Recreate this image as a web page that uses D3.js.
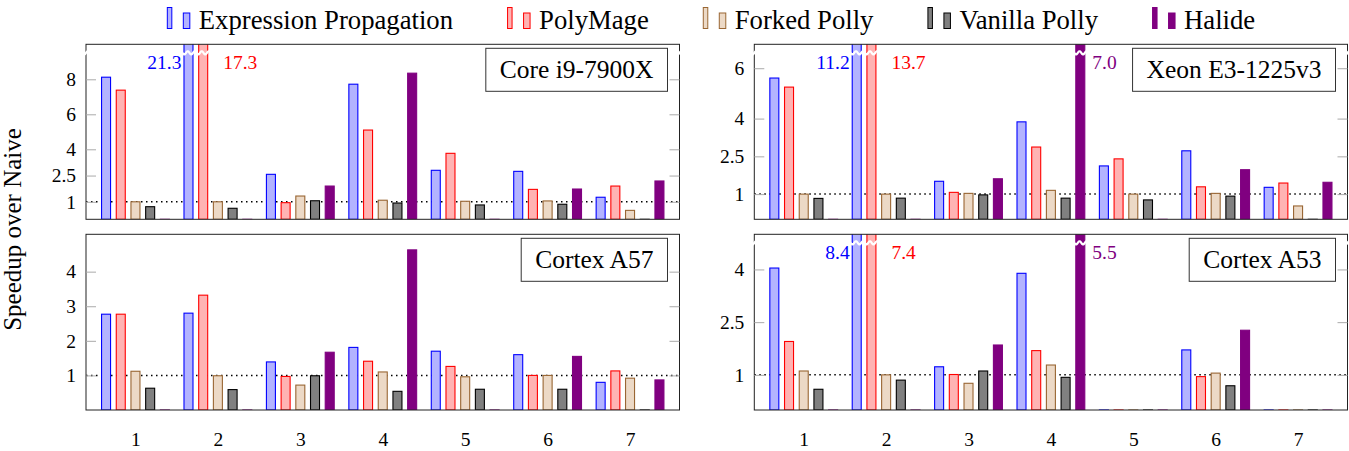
<!DOCTYPE html>
<html>
<head>
<meta charset="utf-8">
<script src="https://cdn.jsdelivr.net/npm/d3@7"></script>
<style>
  body { margin: 0; background: #fff; }
  text { font-family: "Liberation Serif", "Times New Roman", serif; }
</style>
</head>
<body>
<script>

// benchmarks on the x axis
var benchmarks = [1, 2, 3, 4, 5, 6, 7];

// series shown in every panel
var seriesNames = ["Expression Propagation", "PolyMage", "Forked Polly", "Vanilla Polly", "Halide"];
var fillColors = ["#b3b3ff", "#ffb3b3", "#ecd9c6", "#808080", "#800080"];
var strokeColors = ["#0000ff", "#ff0000", "#996633", "#000000", "#800080"];

// speedups, one row per series
var i9Speedup = [
  [8.12, 21.3, 2.57, 7.72, 2.80, 2.74, 1.26],
  [7.38, 17.3, 0.95, 5.10, 3.77, 1.71, 1.90],
  [1.00, 1.00, 1.33, 1.09, 1.03, 1.05, 0.51],
  [0.72, 0.63, 1.06, 0.93, 0.82, 0.86, 0],
  [0, 0, 1.90, 8.35, 0, 1.73, 2.19]
];
var xeonSpeedup = [
  [5.61, 11.2, 1.51, 3.87, 2.12, 2.72, 1.27],
  [5.25, 13.7, 1.07, 2.87, 2.40, 1.29, 1.44],
  [1.00, 1.00, 1.03, 1.15, 1.00, 1.03, 0.53],
  [0.83, 0.84, 0.97, 0.84, 0.77, 0.92, 0],
  [0, 0, 1.61, 7.0, 0, 1.97, 1.47]
];
var a57Speedup = [
  [2.77, 2.80, 1.39, 1.81, 1.70, 1.60, 0.80],
  [2.77, 3.32, 0.97, 1.41, 1.26, 1.00, 1.13],
  [1.12, 0.99, 0.72, 1.10, 0.96, 1.00, 0.92],
  [0.63, 0.59, 0.99, 0.54, 0.60, 0.60, 0],
  [0, 0, 1.67, 4.63, 0, 1.55, 0.87]
];
var a53Speedup = [
  [4.04, 8.4, 1.23, 3.89, 0, 1.71, 0],
  [1.95, 7.4, 1.01, 1.69, 0, 0.95, 0],
  [1.11, 1.00, 0.76, 1.28, 0, 1.05, 0],
  [0.59, 0.85, 1.11, 0.93, 0, 0.69, 0],
  [0, 0, 1.85, 5.5, 0, 2.27, 0]
];

// tick labels of each panel
var i9Ticks = [1, 2.5, 4, 6, 8];
var xeonTicks = [1, 2.5, 4, 6];
var a57Ticks = [1, 2, 3, 4];
var a53Ticks = [1, 2.5, 4];

var width = 1349;
var height = 451;

var svg = d3.select("body")
  .append("svg")
  .attr("width", width)
  .attr("height", height);

var panels = [
  {title: "Core i9-7900X", data: i9Speedup, ticks: i9Ticks, yMax: 10,
   left: 86, right: 679.5, top: 44.3, bottom: 219.3, xLabels: false},
  {title: "Xeon E3-1225v3", data: xeonSpeedup, ticks: xeonTicks, yMax: 6.95,
   left: 754.3, right: 1347.5, top: 44.3, bottom: 219.3, xLabels: false},
  {title: "Cortex A57", data: a57Speedup, ticks: a57Ticks, yMax: 5.08,
   left: 86, right: 679.5, top: 234.3, bottom: 410, xLabels: true},
  {title: "Cortex A53", data: a53Speedup, ticks: a53Ticks, yMax: 5.0,
   left: 754.3, right: 1347.5, top: 234.3, bottom: 410, xLabels: true}
];

var barWidth = 9;
var barStep = 14.7;

/*
* White wavy line used to mark a cut bar.
*/
function wavePath(x0, x1, yc) {
  var pts = [];
  for (var xx = x0; xx <= x1 + 0.01; xx += 0.5) {
    pts.push([xx, yc + 1.6 * Math.sin((xx - x0) / 7 * 2 * Math.PI)]);
  }
  return d3.line()(pts);
}

panels.forEach(function(p, pi) {

  var x = d3.scaleLinear().domain([0.4, 7.6]).range([p.left, p.right]);
  var y = d3.scaleLinear().domain([0, p.yMax]).range([p.bottom, p.top]);
  var offset = d3.scaleLinear().domain([0, 4]).range([-2 * barStep, 2 * barStep]);

  var g = svg.append("g");

  g.append("clipPath")
    .attr("id", "clip" + pi)
    .append("rect")
    .attr("x", p.left)
    .attr("y", p.top)
    .attr("width", p.right - p.left)
    .attr("height", p.bottom - p.top);

  // dotted baseline at speedup 1
  g.append("line")
    .attr("x1", p.left)
    .attr("x2", p.right)
    .attr("y1", y(1))
    .attr("y2", y(1))
    .attr("stroke", "#000")
    .attr("stroke-width", 1.5)
    .attr("stroke-dasharray", "1.5,3.5");

  // bars
  var bars = g.append("g").attr("clip-path", "url(#clip" + pi + ")");
  p.data.forEach(function(row, si) {
    bars.selectAll(null)
      .data(row)
      .enter()
      .append("rect")
      .attr("x", function(d, i) { return x(benchmarks[i]) + offset(si) - barWidth / 2; })
      .attr("y", function(d) { return y(Math.min(d, p.yMax + 0.5)); })
      .attr("width", barWidth)
      .attr("height", function(d) { return Math.max(0.01, y(0) - y(Math.min(d, p.yMax + 0.5))); })
      .attr("fill", fillColors[si])
      .attr("stroke", strokeColors[si])
      .attr("stroke-width", 1.1);
  });

  // cut bars: wave marks and value labels
  var breakY = p.top + 8.5;
  var hasBreak = false;
  benchmarks.forEach(function(b, i) {
    var cut = [];
    p.data.forEach(function(row, si) {
      if (row[i] > p.yMax) cut.push(si);
    });
    if (cut.length == 0) return;
    hasBreak = true;
    var x0 = x(b) + offset(cut[0]) - barWidth / 2 - 1.5;
    var x1 = x(b) + offset(cut[cut.length - 1]) + barWidth / 2 + 1.5;
    g.append("path")
      .attr("d", wavePath(x0, x1, breakY))
      .attr("fill", "none")
      .attr("stroke", "#fff")
      .attr("stroke-width", 2.2);

    cut.forEach(function(si) {
      var left = si == 0;
      var shift = si == 0 ? -7 : (si == 1 ? 20 : 12);
      g.append("text")
        .attr("x", x(b) + offset(si) + shift)
        .attr("y", p.top + 24.5)
        .attr("text-anchor", left ? "end" : "start")
        .attr("fill", strokeColors[si])
        .style("font-size", "19.5px")
        .text(p.data[si][i].toFixed(1));
    });
  });

  // frame
  g.append("rect")
    .attr("x", p.left)
    .attr("y", p.top)
    .attr("width", p.right - p.left)
    .attr("height", p.bottom - p.top)
    .attr("fill", "none")
    .attr("stroke", "#222")
    .attr("stroke-width", 1);

  if (hasBreak) {
    [p.left, p.right].forEach(function(ex) {
      g.append("path")
        .attr("d", wavePath(ex - 3.5, ex + 3.5, breakY))
        .attr("fill", "none")
        .attr("stroke", "#fff")
        .attr("stroke-width", 2.2);
    });
  }

  // y axis, ticks inside
  var yAxis = g.append("g")
    .attr("transform", "translate(" + p.left + ",0)")
    .call(d3.axisLeft(y).tickValues(p.ticks).tickSize(-10).tickPadding(10)
      .tickFormat(function(d) { return d; }));
  yAxis.select(".domain").remove();
  yAxis.selectAll("line").attr("stroke", "#aaa");
  yAxis.selectAll("text")
    .attr("fill", "#000")
    .style("font-size", "19.5px")
    .style("font-family", "Liberation Serif, serif");

  var yAxisR = g.append("g")
    .attr("transform", "translate(" + p.right + ",0)")
    .call(d3.axisRight(y).tickValues(p.ticks).tickSize(-10).tickFormat(""));
  yAxisR.select(".domain").remove();
  yAxisR.selectAll("line").attr("stroke", "#aaa");

  // x axis labels under the bottom panels
  if (p.xLabels) {
    var xAxis = g.append("g")
      .attr("transform", "translate(0," + p.bottom + ")")
      .call(d3.axisBottom(x).tickValues(benchmarks).tickSize(0).tickPadding(22));
    xAxis.select(".domain").remove();
    xAxis.selectAll("text")
      .attr("fill", "#000")
      .style("font-size", "19.5px")
      .style("font-family", "Liberation Serif, serif");
  }

  // title box in the top right corner
  var box = g.append("rect")
    .attr("fill", "#fff")
    .attr("stroke", "#333")
    .attr("stroke-width", 1);
  var title = g.append("text")
    .attr("text-anchor", "middle")
    .style("font-size", "25.5px")
    .text(p.title);
  var boxW = title.node().getComputedTextLength() + 28;
  var boxX = p.right - 12 - boxW;
  var boxY = p.top + 4;
  box.attr("x", boxX)
    .attr("y", boxY)
    .attr("width", boxW)
    .attr("height", 43);
  title.attr("x", boxX + boxW / 2).attr("y", boxY + 30);
});

// y axis label
svg.append("text")
  .attr("transform", "translate(21,229.5) rotate(-90)")
  .attr("text-anchor", "middle")
  .style("font-size", "25px")
  .text("Speedup over Naive");

// legend
var legend = svg.append("g");
var lx = 0;
seriesNames.forEach(function(name, si) {
  var item = legend.append("g").attr("transform", "translate(" + lx + ",0)");
  item.append("rect")
    .attr("x", 0.5).attr("y", 7.5)
    .attr("width", 4.5).attr("height", 21)
    .attr("fill", fillColors[si]).attr("stroke", strokeColors[si]);
  item.append("rect")
    .attr("x", 16.5).attr("y", 13)
    .attr("width", 6.5).attr("height", 15.5)
    .attr("fill", fillColors[si]).attr("stroke", strokeColors[si]);
  var t = item.append("text")
    .attr("x", 32)
    .attr("y", 29)
    .style("font-size", "26.7px")
    .text(name);
  lx += 32 + t.node().getComputedTextLength() + 54;
});
var legendW = lx - 54;
legend.attr("transform", "translate(" + (711 - legendW / 2) + ",0)");

</script>
</body>
</html>
